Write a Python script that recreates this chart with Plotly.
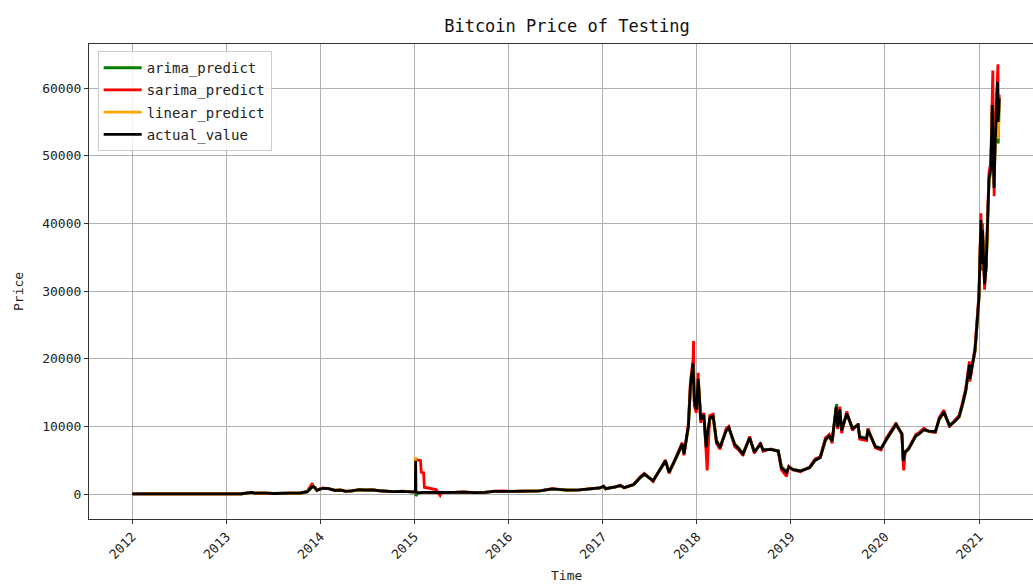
import plotly.graph_objects as go

dates = [
    "2012-01-01", "2012-04-01", "2012-07-01", "2012-10-01", "2013-01-01", "2013-03-01",
    "2013-04-09", "2013-04-20", "2013-06-01", "2013-07-05", "2013-09-01", "2013-10-15",
    "2013-11-10", "2013-11-30", "2013-12-04", "2013-12-10", "2013-12-18", "2013-12-28",
    "2014-01-10", "2014-02-01", "2014-02-25", "2014-03-20", "2014-04-10", "2014-05-01",
    "2014-06-01", "2014-06-25", "2014-07-20", "2014-08-18", "2014-09-20", "2014-10-10",
    "2014-11-15", "2014-12-15",
    "2015-01-04", "2015-01-05", "2015-01-06", "2015-01-14", "2015-01-24", "2015-01-27",
    "2015-02-05", "2015-02-08", "2015-02-25", "2015-03-10", "2015-03-25", "2015-04-10",
    "2015-04-15", "2015-06-01", "2015-07-10", "2015-08-25", "2015-10-01", "2015-11-04",
    "2015-12-15", "2016-01-15", "2016-03-01", "2016-05-01", "2016-06-18", "2016-07-15",
    "2016-08-15", "2016-10-01", "2016-11-15", "2016-12-20",
    "2017-01-04", "2017-01-12", "2017-02-20", "2017-03-10", "2017-03-25", "2017-05-01",
    "2017-05-25", "2017-06-11", "2017-07-15", "2017-08-05", "2017-08-20", "2017-09-01",
    "2017-09-15", "2017-10-01", "2017-10-20", "2017-11-05", "2017-11-12", "2017-11-29",
    "2017-12-07", "2017-12-17", "2017-12-19", "2017-12-22", "2017-12-30", "2018-01-06",
    "2018-01-08", "2018-01-16", "2018-01-28", "2018-02-06", "2018-02-10", "2018-02-20",
    "2018-03-05", "2018-03-18", "2018-04-01", "2018-04-25", "2018-05-05", "2018-05-28",
    "2018-06-10", "2018-06-29", "2018-07-25", "2018-08-12", "2018-09-05", "2018-09-15",
    "2018-10-15", "2018-11-13", "2018-11-25", "2018-12-15", "2018-12-24",
    "2019-01-10", "2019-02-07", "2019-03-15", "2019-04-05", "2019-04-25", "2019-05-15",
    "2019-05-30", "2019-06-10", "2019-06-26", "2019-06-28", "2019-07-02", "2019-07-10",
    "2019-07-17", "2019-08-06", "2019-08-28", "2019-09-19", "2019-09-25", "2019-10-22",
    "2019-10-27", "2019-11-25", "2019-12-17",
    "2020-01-07", "2020-02-13", "2020-03-07", "2020-03-12", "2020-03-14", "2020-03-20",
    "2020-04-01", "2020-04-30", "2020-05-10", "2020-05-31", "2020-06-20", "2020-07-15",
    "2020-07-30", "2020-08-17", "2020-09-08", "2020-09-30", "2020-10-15", "2020-10-28",
    "2020-11-10", "2020-11-24", "2020-11-26", "2020-12-16", "2020-12-31",
    "2021-01-08", "2021-01-11", "2021-01-14", "2021-01-22", "2021-01-28", "2021-02-08",
    "2021-02-15", "2021-02-21", "2021-02-23", "2021-02-28", "2021-03-03", "2021-03-13",
    "2021-03-15", "2021-03-16", "2021-03-20",
]

actual_value = [
    5, 5, 7, 12, 13, 35,
    230, 120, 120, 70, 130, 150,
    350, 1130, 1100, 950, 550, 730,
    850, 800, 550, 580, 380, 450,
    630, 580, 620, 480, 400, 360,
    400, 340,
    280, 4900, 280, 180, 250, 240,
    230, 230, 250, 290, 260, 240,
    220, 230, 290, 210, 240, 400,
    450, 380, 430, 450, 750, 660,
    570, 610, 720, 890,
    1130, 780, 1050, 1250, 930, 1400,
    2400, 2950, 1950, 3200, 4100, 4900,
    3200, 4400, 6000, 7400, 5900, 10000,
    16000, 19300, 17500, 13800, 12500, 17000,
    16000, 11000, 11700, 6900, 8500, 11200,
    11500, 7800, 6900, 9400, 9800, 7300,
    6800, 5900, 8300, 6200, 7400, 6500,
    6600, 6350, 3900, 3200, 4000,
    3600, 3400, 3900, 5000, 5400, 8000,
    8600, 7800, 12900, 11500, 9900, 12500,
    9400, 11900, 9700, 10200, 8400, 8200,
    9500, 7000, 6700,
    8100, 10300, 8900, 4900, 5300, 6200,
    6600, 8600, 8800, 9500, 9300, 9200,
    11100, 12100, 10100, 10800, 11400, 13200,
    15300, 19100, 17000, 21300, 29000,
    40500, 34000, 39000, 31000, 33500, 46500,
    48000, 57500, 52000, 45200, 50500, 60900,
    57000, 55000, 58500,
]

arima_predict = [
    5, 5, 7, 12, 13, 35,
    200, 140, 120, 75, 125, 150,
    320, 1050, 1120, 980, 600, 700,
    840, 810, 570, 570, 400, 440,
    620, 590, 610, 490, 410, 365,
    395, 345,
    280, 4700, -300, 190, 250, 240,
    230, 230, 250, 290, 260, 240,
    220, 230, 290, 215, 240, 390,
    450, 385, 430, 450, 730, 670,
    570, 610, 715, 880,
    1100, 820, 1040, 1240, 950, 1380,
    2350, 2900, 2000, 3150, 4050, 4850,
    3300, 4350, 5900, 7300, 6000, 9800,
    15500, 18800, 17800, 14200, 12700, 16600,
    16200, 11300, 11600, 7200, 8300, 11000,
    11400, 8000, 7000, 9300, 9700, 7400,
    6900, 6000, 8200, 6300, 7300, 6550,
    6600, 6350, 4100, 3300, 3950,
    3620, 3420, 3880, 4950, 5400, 7900,
    8550, 7850, 12700, 13300, 10000, 12400,
    9500, 11800, 9750, 10150, 8500, 8250,
    9400, 7050, 6750,
    8050, 10200, 8950, 5100, 5200, 6150,
    6600, 8550, 8800, 9450, 9300, 9200,
    11000, 12000, 10150, 10800, 11350, 13100,
    15200, 18900, 17200, 21000, 28700,
    39800, 34500, 38500, 31500, 33300, 46000,
    47800, 57000, 52500, 45800, 50000, 60300,
    57300, 51800, 58000,
]

sarima_predict = [
    5, 5, 7, 12, 13, 38,
    240, 110, 125, 65, 135, 155,
    380, 1600, 1050, 900, 500, 760,
    870, 780, 520, 600, 360, 460,
    650, 570, 630, 460, 390, 350,
    410, 330,
    280, 5300, 5200, 5000, 4950, 3200,
    3150, 1000, 900, 800, 650, -200,
    215, 235, 300, 200, 245, 420,
    460, 370, 440, 455, 780, 640,
    560, 620, 740, 920,
    1180, 740, 1080, 1290, 890, 1450,
    2500, 3050, 1850, 3300, 4250, 5050,
    3050, 4550, 6200, 7600, 5700, 10400,
    16600, 19800, 22600, 13000, 12000, 17900,
    15500, 10500, 12000, 6300, 3500, 11600,
    11800, 7500, 6600, 9700, 10000, 7000,
    6600, 5700, 8500, 6000, 7600, 6300,
    6650, 6300, 3600, 2600, 4100,
    3550, 3300, 4000, 5200, 5500, 8300,
    8800, 7500, 12800, 11200, 9600, 12900,
    9000, 12200, 9400, 10400, 8100, 7900,
    9700, 6800, 6500,
    8300, 10500, 8700, 4700, 3500, 6300,
    6700, 8800, 9000, 9700, 9200, 9100,
    11300, 12400, 9900, 11000, 11600, 13500,
    15600, 19600, 16600, 21800, 29500,
    41500, 33000, 40000, 30200, 34000, 47500,
    49000, 58500, 62600, 44000, 51500, 61500,
    63500, 54500, 59000,
]

linear_predict = [
    5, 5, 7, 12, 13, 36,
    220, 125, 120, 72, 128, 150,
    340, 1200, 1080, 960, 580, 720,
    850, 800, 560, 575, 390, 445,
    625, 585, 615, 485, 405, 362,
    398, 342,
    280, 5450, 300, 180, 250, 240,
    230, 230, 250, 290, 260, 240,
    220, 230, 290, 212, 240, 395,
    450, 382, 430, 450, 740, 665,
    570, 610, 718, 885,
    1110, 800, 1045, 1245, 940, 1390,
    2380, 2920, 1980, 3180, 4080, 4880,
    3250, 4380, 5950, 7350, 5950, 9900,
    15800, 19000, 17600, 14000, 12600, 16800,
    16100, 11200, 11650, 7000, 8400, 11100,
    11450, 7900, 6950, 9350, 9750, 7350,
    6850, 5950, 8250, 6250, 7350, 6520,
    6600, 6350, 4000, 3250, 3980,
    3610, 3410, 3890, 4980, 5400, 7950,
    8580, 7820, 12800, 11800, 9950, 12450,
    9450, 11850, 9720, 10180, 8450, 8220,
    9450, 7020, 6720,
    8080, 10250, 8920, 5000, 5250, 6180,
    6600, 8580, 8800, 9480, 9300, 9200,
    11050, 12050, 10120, 10800, 11380, 13150,
    15250, 19000, 17100, 21150, 28800,
    40100, 34200, 38800, 31200, 33400, 46200,
    47900, 57200, 52200, 45500, 50200, 60600,
    57100, 52500, 58200,
]

x_tick_labels = ["2012", "2013", "2014", "2015", "2016", "2017", "2018", "2019", "2020", "2021"]
y_tick_values = [0, 10000, 20000, 30000, 40000, 50000, 60000]

FONT = "DejaVu Sans Mono"

fig = go.Figure()
series = [
    ("arima_predict", arima_predict, "#008000"),
    ("sarima_predict", sarima_predict, "#ff0000"),
    ("linear_predict", linear_predict, "#ffa500"),
    ("actual_value", actual_value, "#000000"),
]
for name, vals, col in series:
    fig.add_trace(go.Scatter(
        x=dates, y=vals, mode="lines", name=name, legendgroup=name,
        line=dict(color=col, width=2.8),
    ))

fig.update_layout(
    width=1033, height=584,
    margin=dict(l=89, r=0, t=44, b=65),
    paper_bgcolor="white", plot_bgcolor="white",
    font=dict(family=FONT, size=13, color="#222222"),
    title=dict(text="Bitcoin Price of Testing", x=567 / 1033, xanchor="center",
               xref="container", y=1 - 26 / 584, yanchor="middle",
               font=dict(family=FONT, size=17, color="#111111")),
    showlegend=True,
    legend=dict(x=0.0092, y=0.985, xanchor="left", yanchor="top",
                bgcolor="rgba(255,255,255,0.8)", bordercolor="#cccccc", borderwidth=1,
                font=dict(family=FONT, size=14, color="#222222"),
                traceorder="grouped", tracegroupgap=1, itemwidth=38),
)

fig.update_xaxes(
    range=["2011-07-17", "2021-07-29"],
    tickvals=[f"{t}-01-01" for t in x_tick_labels], ticktext=x_tick_labels,
    tickangle=-45, ticks="outside", ticklen=4, tickcolor="#333333",
    showgrid=True, gridcolor="#b0b0b0", gridwidth=1,
    showline=True, linecolor="#333333", linewidth=1.2, mirror=True,
    zeroline=False, tickfont=dict(family=FONT, size=13),
)
fig.update_yaxes(
    range=[-3695, 66503],
    tickvals=y_tick_values, ticktext=[str(v) for v in y_tick_values],
    ticks="outside", ticklen=4, tickcolor="#333333",
    showgrid=True, gridcolor="#b0b0b0", gridwidth=1,
    showline=True, linecolor="#333333", linewidth=1.2, mirror=False,
    zeroline=False, tickfont=dict(family=FONT, size=13),
)

fig.add_annotation(text="Price", textangle=-90, xref="paper", yref="paper",
                   x=(18 - 89) / 944, y=(519 - 292) / 475, xanchor="center", yanchor="middle",
                   showarrow=False, font=dict(family=FONT, size=13, color="#222222"))
fig.add_annotation(text="Time", xref="paper", yref="paper",
                   x=(566 - 89) / 944, y=(519 - 575) / 475, xanchor="center", yanchor="middle",
                   showarrow=False, font=dict(family=FONT, size=13, color="#222222"))

fig.write_html("out.html")
